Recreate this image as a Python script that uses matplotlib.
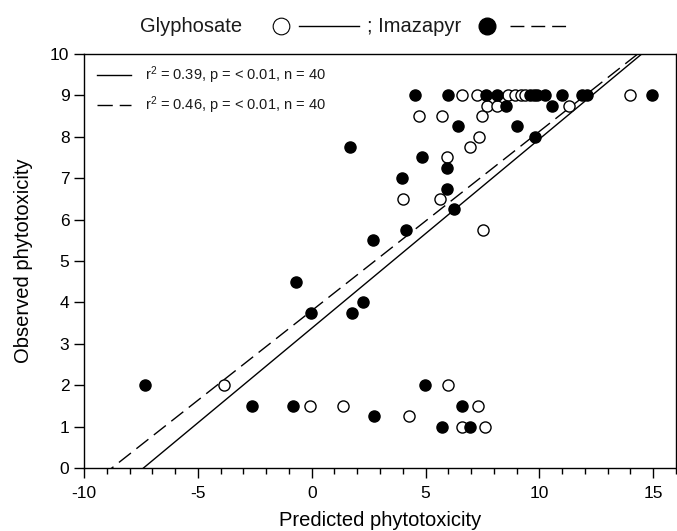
import matplotlib
matplotlib.use('Agg')
import matplotlib.pyplot as plt
from matplotlib.lines import Line2D
from matplotlib.ticker import MultipleLocator
import numpy as np

plt.rcParams['font.family'] = ['Liberation Sans', 'DejaVu Sans']
plt.rcParams['mathtext.fontset'] = 'custom'
plt.rcParams['mathtext.rm'] = 'Liberation Sans'
plt.rcParams['mathtext.it'] = 'Liberation Sans:italic'
plt.rcParams['axes.unicode_minus'] = False
plt.rcParams['text.color'] = '#1a1a1a'

# Glyphosate -- open circles, solid fit
gly_pred = [6.6, 7.25, 8.64, 8.94, 9.2, 9.35, 14.0,
            7.69, 8.13, 11.28,
            4.7, 5.72, 7.47,
            7.33, 6.96, 5.93,
            4.0, 5.64, 7.51,
            -3.84, 6.0,
            -0.07, 1.39, 7.29,
            4.28, 6.62, 7.62]
gly_obs = [9, 9, 9, 9, 9, 9, 9,
           8.75, 8.75, 8.75,
           8.5, 8.5, 8.5,
           8.0, 7.75, 7.5,
           6.5, 6.5, 5.75,
           2.0, 2.0,
           1.5, 1.5, 1.5,
           1.25, 1.0, 1.0]

# Imazapyr -- filled circles, dashed fit
ima_pred = [4.55, 6.0, 7.65, 8.13, 9.6, 9.75, 9.9, 10.25, 10.99, 11.85, 12.08, 14.94,
            8.54, 10.55,
            6.44, 9.0,
            9.81, 1.7, 4.83, 5.93, 3.96, 5.93, 6.26, 4.15, 2.68,
            -0.7, 2.24, -0.03, 1.76,
            -7.32, 4.98,
            -2.6, -0.8, 6.59,
            2.74, 5.71, 6.96]
ima_obs = [9, 9, 9, 9, 9, 9, 9, 9, 9, 9, 9, 9,
           8.75, 8.75,
           8.25, 8.25,
           8.0, 7.75, 7.5, 7.25, 7.0, 6.75, 6.25, 5.75, 5.5,
           4.5, 4.0, 3.75, 3.75,
           2.0, 2.0,
           1.5, 1.5, 1.5,
           1.25, 1.0, 1.0]

# regression lines: slope, intercept
gly_fit = (0.457, 3.376)
ima_fit = (0.433, 3.80)
gly_label = r'r$^2$ = 0.39, p = < 0.01, n = 40'
ima_label = r'r$^2$ = 0.46, p = < 0.01, n = 40'

W, H = 677, 531
def px(x, y):
    return x / W, 1 - y / H

fig = plt.figure(figsize=(W / 100, H / 100), dpi=100)
ax = fig.add_axes([84 / W, 1 - 468 / H, (676 - 84) / W, (468 - 54) / H])

xfit = np.array([-10, 16])
l1, = ax.plot(xfit, gly_fit[0] * xfit + gly_fit[1], color='k', lw=1.0)
l2, = ax.plot(xfit, ima_fit[0] * xfit + ima_fit[1], color='k', lw=1.0,
              dashes=(11, 5))

ax.plot(gly_pred, gly_obs, 'o', ms=8, mfc='white', mec='k', mew=1.0, ls='none')
ax.plot(ima_pred, ima_obs, 'o', ms=8, mfc='k', mec='k', mew=1.0, ls='none')

ax.set_xlim(-10, 16)
ax.set_ylim(0, 10)
ax.set_xticks(np.arange(-10, 16, 5))
ax.xaxis.set_minor_locator(MultipleLocator(1))
ax.set_yticks(np.arange(0, 11, 1))
ax.tick_params(which='major', direction='out', length=7, width=1, labelsize=12.5)
ax.tick_params(axis='x', which='major', pad=6)
ax.tick_params(axis='x', which='minor', direction='out', length=4.5, width=1)
for s in ax.spines.values():
    s.set_linewidth(1.0)

ax.set_xlabel('Predicted phytotoxicity', fontsize=14.5, labelpad=7)
ax.set_ylabel('Observed phytotoxicity', fontsize=14.5, labelpad=12)

ax.legend([l1, l2], [gly_label, ima_label], loc='upper left',
          bbox_to_anchor=(0.022, 0.975), borderaxespad=0, borderpad=0,
          frameon=False, fontsize=10.5, handlelength=2.3, handletextpad=1.0,
          labelspacing=0.6)

# header key
yc = 26
fig.text(*px(140, yc), 'Glyphosate', fontsize=14.5, va='center', ha='left')
fig.add_artist(Line2D([281 / W], [1 - yc / H], marker='o', ms=12, mfc='white',
                      mec='k', mew=0.8, transform=fig.transFigure))
fig.add_artist(Line2D([299 / W, 359 / W], [1 - yc / H] * 2, color='k', lw=1.0,
                      transform=fig.transFigure))
fig.text(*px(367, yc), '; Imazapyr', fontsize=14.5, va='center', ha='left')
fig.add_artist(Line2D([487 / W], [1 - yc / H], marker='o', ms=12, mfc='k',
                      mec='k', transform=fig.transFigure))
fig.add_artist(Line2D([510 / W, 566 / W], [1 - yc / H] * 2, color='k', lw=1.0,
                      dashes=(10, 5), transform=fig.transFigure))

fig.savefig('out.png', dpi=100)
